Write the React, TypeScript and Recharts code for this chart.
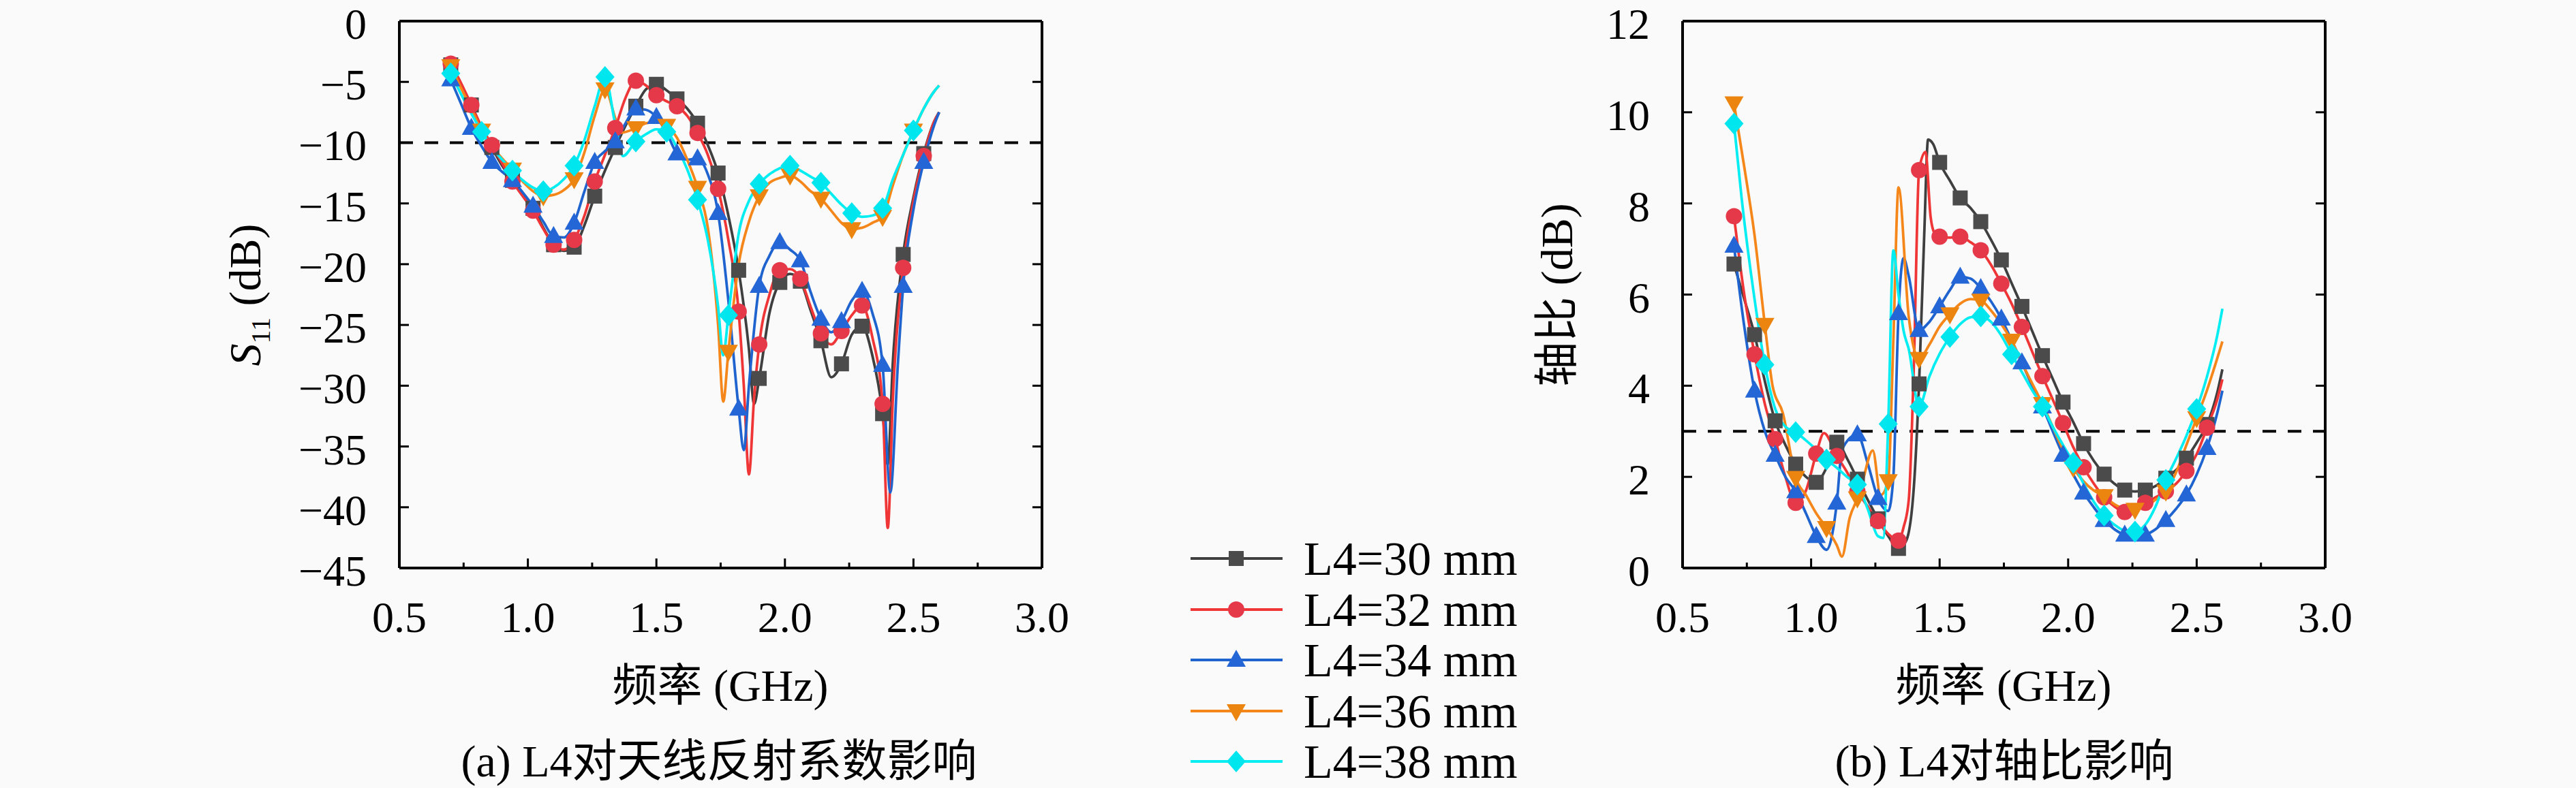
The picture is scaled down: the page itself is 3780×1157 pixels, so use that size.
import React from "react";
import { LineChart, Line, XAxis, YAxis, ReferenceLine } from "recharts";

// ---- (a) S11 data, frequency in GHz, value in dB ----
const s11Freq30 = [0.70, 0.74, 0.78, 0.82, 0.86, 0.90, 0.94, 0.98, 1.02, 1.06, 1.10, 1.14, 1.18, 1.22, 1.26, 1.30, 1.34, 1.38, 1.42, 1.46, 1.50, 1.54, 1.58, 1.62, 1.66, 1.70, 1.74, 1.78, 1.82, 1.86, 1.88, 1.90, 1.94, 1.98, 2.02, 2.06, 2.10, 2.14, 2.18, 2.22, 2.26, 2.30, 2.34, 2.38, 2.40, 2.42, 2.46, 2.50, 2.54, 2.58, 2.60];
const s11Val30 = [-3.6, -5.2, -6.9, -8.8, -10.4, -11.9, -13.1, -14.3, -15.4, -17.0, -18.4, -18.9, -18.6, -16.8, -14.4, -12.3, -10.4, -8.6, -7.0, -5.6, -5.2, -5.7, -6.4, -7.2, -8.4, -10.2, -12.5, -16.0, -20.5, -27.0, -31.5, -29.4, -24.0, -21.5, -20.8, -21.4, -23.8, -26.3, -29.3, -28.2, -25.8, -25.1, -27.5, -32.3, -36.5, -28.0, -19.2, -14.5, -10.9, -8.3, -7.5];

const s11Freq32 = [0.70, 0.74, 0.78, 0.82, 0.86, 0.90, 0.94, 0.98, 1.02, 1.06, 1.10, 1.14, 1.18, 1.22, 1.26, 1.30, 1.34, 1.38, 1.42, 1.46, 1.50, 1.54, 1.58, 1.62, 1.66, 1.70, 1.74, 1.78, 1.82, 1.84, 1.86, 1.88, 1.90, 1.94, 1.98, 2.02, 2.06, 2.10, 2.14, 2.18, 2.22, 2.26, 2.30, 2.34, 2.38, 2.40, 2.42, 2.46, 2.50, 2.54, 2.58, 2.60];
const s11Val32 = [-3.5, -5.1, -6.9, -8.7, -10.2, -11.7, -13.2, -14.4, -15.6, -17.1, -18.4, -18.8, -18.0, -16.0, -13.2, -11.0, -8.8, -6.3, -4.9, -5.3, -6.1, -6.6, -7.0, -7.8, -9.2, -11.0, -13.8, -18.0, -23.9, -30.0, -37.3, -31.0, -26.6, -22.5, -20.5, -20.4, -21.2, -23.5, -25.7, -26.6, -25.5, -24.2, -23.4, -26.0, -31.5, -41.7, -31.0, -20.3, -14.8, -11.1, -8.3, -7.5];

const s11Freq34 = [0.70, 0.74, 0.78, 0.82, 0.86, 0.90, 0.94, 0.98, 1.02, 1.06, 1.10, 1.14, 1.18, 1.22, 1.26, 1.30, 1.34, 1.38, 1.42, 1.46, 1.50, 1.54, 1.58, 1.62, 1.66, 1.70, 1.74, 1.78, 1.82, 1.84, 1.86, 1.90, 1.94, 1.98, 2.02, 2.06, 2.10, 2.14, 2.18, 2.22, 2.26, 2.30, 2.34, 2.38, 2.41, 2.44, 2.46, 2.50, 2.54, 2.58, 2.60];
const s11Val34 = [-4.8, -6.8, -8.8, -10.3, -11.6, -12.4, -13.1, -14.1, -15.2, -16.5, -17.7, -17.8, -16.6, -14.0, -11.6, -10.7, -9.9, -8.4, -7.2, -7.3, -7.9, -9.2, -10.9, -11.4, -11.3, -12.6, -15.8, -23.0, -31.9, -35.3, -30.0, -21.8, -19.3, -18.2, -18.8, -19.7, -22.3, -24.5, -25.6, -24.7, -23.0, -22.2, -24.0, -28.3, -38.8, -28.0, -21.8, -15.5, -11.6, -8.6, -7.5];

const s11Freq36 = [0.70, 0.74, 0.78, 0.82, 0.86, 0.90, 0.94, 0.98, 1.02, 1.06, 1.10, 1.14, 1.18, 1.22, 1.26, 1.30, 1.34, 1.36, 1.42, 1.46, 1.50, 1.54, 1.58, 1.62, 1.66, 1.70, 1.74, 1.76, 1.78, 1.82, 1.86, 1.90, 1.94, 1.98, 2.02, 2.06, 2.10, 2.14, 2.18, 2.22, 2.26, 2.30, 2.34, 2.38, 2.42, 2.46, 2.50, 2.54, 2.58, 2.60];
const s11Val36 = [-3.7, -5.5, -7.2, -9.0, -10.3, -11.3, -12.2, -13.2, -14.0, -14.4, -14.3, -13.9, -13.0, -10.8, -7.8, -5.6, -8.0, -9.2, -8.8, -8.4, -8.3, -8.6, -9.6, -11.4, -13.7, -17.0, -25.0, -31.3, -27.2, -20.0, -16.5, -14.4, -13.3, -12.9, -12.7, -13.2, -14.0, -14.6, -15.6, -16.6, -17.1, -17.0, -16.6, -16.1, -13.5, -11.0, -9.0, -7.2, -5.8, -5.3];

const s11Freq38 = [0.70, 0.74, 0.78, 0.82, 0.86, 0.90, 0.94, 0.98, 1.02, 1.06, 1.10, 1.14, 1.18, 1.22, 1.26, 1.30, 1.34, 1.37, 1.42, 1.46, 1.50, 1.54, 1.58, 1.62, 1.66, 1.70, 1.74, 1.76, 1.78, 1.82, 1.86, 1.90, 1.94, 1.98, 2.02, 2.06, 2.10, 2.14, 2.18, 2.22, 2.26, 2.30, 2.34, 2.38, 2.42, 2.46, 2.50, 2.54, 2.58, 2.60];
const s11Val38 = [-4.3, -6.0, -7.6, -9.1, -10.4, -11.4, -12.3, -13.1, -13.7, -14.0, -13.7, -13.0, -11.9, -9.8, -7.0, -4.6, -8.5, -11.1, -9.9, -9.3, -8.9, -9.1, -10.4, -12.2, -14.7, -18.0, -23.5, -27.5, -24.2, -17.5, -14.8, -13.4, -12.6, -12.1, -11.9, -12.3, -12.8, -13.3, -14.2, -15.1, -15.8, -16.1, -16.0, -15.4, -13.0, -11.0, -9.0, -7.2, -5.8, -5.3];

// ---- (b) axial ratio data, dB ----
const arFreq30 = [0.70, 0.74, 0.78, 0.82, 0.86, 0.90, 0.94, 0.98, 1.02, 1.06, 1.10, 1.14, 1.18, 1.22, 1.26, 1.30, 1.34, 1.37, 1.40, 1.42, 1.44, 1.455, 1.475, 1.50, 1.54, 1.58, 1.62, 1.66, 1.70, 1.74, 1.78, 1.82, 1.86, 1.90, 1.94, 1.98, 2.02, 2.06, 2.10, 2.14, 2.18, 2.22, 2.26, 2.30, 2.34, 2.38, 2.42, 2.46, 2.50, 2.54, 2.58, 2.60];
const arVal30 = [6.67, 5.9, 5.12, 4.1, 3.23, 2.7, 2.28, 2.0, 1.88, 2.2, 2.76, 2.4, 1.95, 1.5, 1.08, 0.7, 0.43, 0.6, 1.8, 4.04, 7.3, 9.4, 9.3, 8.9, 8.5, 8.12, 7.9, 7.6, 7.2, 6.76, 6.25, 5.74, 5.2, 4.66, 4.15, 3.64, 3.2, 2.73, 2.35, 2.06, 1.85, 1.71, 1.68, 1.71, 1.8, 1.97, 2.15, 2.41, 2.75, 3.15, 3.85, 4.36];

const arFreq32 = [0.70, 0.74, 0.78, 0.82, 0.86, 0.90, 0.94, 0.98, 1.02, 1.05, 1.10, 1.14, 1.18, 1.22, 1.26, 1.30, 1.34, 1.36, 1.38, 1.40, 1.42, 1.445, 1.465, 1.48, 1.50, 1.54, 1.58, 1.62, 1.66, 1.70, 1.74, 1.78, 1.82, 1.86, 1.90, 1.94, 1.98, 2.02, 2.06, 2.10, 2.14, 2.18, 2.22, 2.26, 2.30, 2.34, 2.38, 2.42, 2.46, 2.50, 2.54, 2.58, 2.60];
const arVal32 = [7.72, 6.0, 4.69, 3.6, 2.83, 2.0, 1.43, 1.7, 2.51, 2.96, 2.46, 2.1, 1.68, 1.35, 1.03, 0.75, 0.6, 0.9, 1.5, 4.5, 8.73, 9.13, 7.7, 7.35, 7.27, 7.25, 7.27, 7.15, 6.97, 6.65, 6.24, 5.8, 5.29, 4.75, 4.21, 3.7, 3.18, 2.65, 2.21, 1.85, 1.55, 1.35, 1.23, 1.28, 1.43, 1.55, 1.68, 1.85, 2.13, 2.5, 3.08, 3.7, 4.14];

const arFreq34 = [0.70, 0.74, 0.78, 0.82, 0.86, 0.90, 0.94, 0.98, 1.02, 1.06, 1.10, 1.12, 1.18, 1.22, 1.26, 1.30, 1.32, 1.34, 1.36, 1.38, 1.42, 1.46, 1.50, 1.54, 1.58, 1.62, 1.66, 1.70, 1.74, 1.78, 1.82, 1.86, 1.90, 1.94, 1.98, 2.02, 2.06, 2.10, 2.14, 2.18, 2.22, 2.26, 2.30, 2.34, 2.38, 2.42, 2.46, 2.50, 2.54, 2.58, 2.60];
const arVal34 = [7.07, 5.3, 3.89, 3.0, 2.48, 2.0, 1.68, 1.2, 0.7, 0.4, 1.43, 2.6, 2.93, 2.3, 1.53, 1.25, 2.0, 5.59, 6.8, 6.4, 5.22, 5.4, 5.74, 6.1, 6.39, 6.35, 6.14, 5.85, 5.47, 5.0, 4.51, 4.0, 3.54, 3.0, 2.48, 2.05, 1.65, 1.33, 1.05, 0.85, 0.73, 0.7, 0.73, 0.85, 1.05, 1.3, 1.61, 2.05, 2.63, 3.4, 3.89];

const arFreq36 = [0.70, 0.74, 0.78, 0.82, 0.85, 0.89, 0.94, 0.98, 1.02, 1.06, 1.10, 1.12, 1.15, 1.18, 1.20, 1.24, 1.27, 1.30, 1.32, 1.34, 1.38, 1.42, 1.46, 1.50, 1.54, 1.58, 1.62, 1.66, 1.70, 1.74, 1.78, 1.82, 1.86, 1.90, 1.94, 1.98, 2.02, 2.06, 2.10, 2.14, 2.18, 2.22, 2.26, 2.30, 2.34, 2.38, 2.42, 2.46, 2.50, 2.54, 2.58, 2.60];
const arVal36 = [10.2, 8.8, 7.3, 5.34, 4.0, 3.4, 1.98, 1.6, 1.2, 0.88, 0.5, 0.25, 1.1, 1.53, 1.9, 2.58, 1.6, 1.91, 5.0, 8.35, 5.5, 4.59, 4.9, 5.3, 5.57, 5.8, 5.9, 5.87, 5.65, 5.35, 4.99, 4.5, 4.05, 3.6, 3.1, 2.6, 2.2, 1.9, 1.7, 1.58, 1.4, 1.3, 1.28, 1.35, 1.5, 1.68, 2.1, 2.7, 3.29, 3.9, 4.6, 4.97];

const arFreq38 = [0.70, 0.73, 0.78, 0.82, 0.86, 0.90, 0.94, 0.98, 1.02, 1.06, 1.10, 1.14, 1.18, 1.22, 1.26, 1.28, 1.30, 1.32, 1.34, 1.36, 1.38, 1.42, 1.46, 1.50, 1.54, 1.58, 1.62, 1.66, 1.70, 1.74, 1.78, 1.82, 1.86, 1.90, 1.94, 1.98, 2.02, 2.06, 2.10, 2.14, 2.18, 2.22, 2.26, 2.30, 2.34, 2.38, 2.42, 2.46, 2.50, 2.54, 2.58, 2.60];
const arVal38 = [9.75, 8.1, 5.9, 4.46, 3.5, 3.1, 2.98, 2.8, 2.6, 2.38, 2.2, 2.0, 1.83, 1.3, 0.7, 0.66, 3.16, 6.97, 6.0, 5.2, 4.8, 3.54, 4.2, 4.7, 5.07, 5.35, 5.5, 5.52, 5.4, 5.1, 4.69, 4.3, 3.9, 3.54, 3.1, 2.7, 2.31, 1.85, 1.45, 1.15, 0.95, 0.82, 0.8, 0.95, 1.35, 1.93, 2.4, 2.9, 3.49, 4.2, 5.1, 5.69];

const seriesNames = ["L4=30 mm", "L4=32 mm", "L4=34 mm", "L4=36 mm", "L4=38 mm"];
const freqTicks = [0.5, 0.75, 1.0, 1.25, 1.5, 1.75, 2.0, 2.25, 2.5, 2.75, 3.0];
const s11Ticks = [-45, -40, -35, -30, -25, -20, -15, -10, -5, 0];
const arTicks = [0, 2, 4, 6, 8, 10, 12];

const FONT = "'Liberation Serif', 'Noto Sans CJK SC', serif";

type Shape = "square" | "circle" | "up" | "down" | "diamond";
const STYLES: { line: string; fill: string; shape: Shape; step: number }[] = [
  { line: "#3f3f3f", fill: "#4b4b4b", shape: "square", step: 0.08 },
  { line: "#ef3535", fill: "#e5394a", shape: "circle", step: 0.08 },
  { line: "#1f63cf", fill: "#2566d6", shape: "up", step: 0.08 },
  { line: "#f5861a", fill: "#ec8410", shape: "down", step: 0.12 },
  { line: "#00eef2", fill: "#00e6ef", shape: "diamond", step: 0.12 },
];

const toPoints = (fs: number[], vs: number[]) => fs.map((f, i) => ({ f, v: vs[i] }));

const s11Data = [
  toPoints(s11Freq30, s11Val30),
  toPoints(s11Freq32, s11Val32),
  toPoints(s11Freq34, s11Val34),
  toPoints(s11Freq36, s11Val36),
  toPoints(s11Freq38, s11Val38),
];
const arData = [
  toPoints(arFreq30, arVal30),
  toPoints(arFreq32, arVal32),
  toPoints(arFreq34, arVal34),
  toPoints(arFreq36, arVal36),
  toPoints(arFreq38, arVal38),
];

function Marker({ shape, cx, cy, fill }: { shape: Shape; cx: number; cy: number; fill: string }) {
  switch (shape) {
    case "square":
      return <rect x={cx - 11} y={cy - 11} width={22} height={22} fill={fill} />;
    case "circle":
      return <circle cx={cx} cy={cy} r={12} fill={fill} />;
    case "up":
      return <polygon points={`${cx},${cy - 15} ${cx - 14},${cy + 10} ${cx + 14},${cy + 10}`} fill={fill} />;
    case "down":
      return <polygon points={`${cx - 14},${cy - 10} ${cx + 14},${cy - 10} ${cx},${cy + 15}`} fill={fill} />;
    default:
      return <polygon points={`${cx},${cy - 16} ${cx + 14},${cy} ${cx},${cy + 16} ${cx - 14},${cy}`} fill={fill} />;
  }
}

const renderDot = (p: any, si: number) => {
  const st = STYLES[si];
  const k = (p.payload.f - 0.7) / st.step;
  if (Math.abs(k - Math.round(k)) > 1e-6 || p.cx == null) return <g key={`d${si}-${p.index}`} />;
  return (
    <g key={`d${si}-${p.index}`}>
      <Marker shape={st.shape} cx={p.cx} cy={p.cy} fill={st.fill} />
    </g>
  );
};

const bottomTick = (p: any) => {
  const major = p.index % 2 === 0;
  return (
    <g key={`bt${p.index}`}>
      <line x1={p.x} x2={p.x} y1={p.y} y2={p.y - (major ? 14 : 8)} stroke="#000" strokeWidth={3} />
      {major && (
        <text x={p.x} y={p.y + 94} textAnchor="middle" fontSize={64} fontFamily={FONT} fill="#000">
          {Number(p.payload.value).toFixed(1)}
        </text>
      )}
    </g>
  );
};

const topTick = (p: any) => {
  const major = p.index % 2 === 0;
  return (
    <line key={`tt${p.index}`} x1={p.x} x2={p.x} y1={p.y} y2={p.y + (major ? 14 : 8)} stroke="#000" strokeWidth={3} />
  );
};

const leftTick = (fmt: (v: number) => string) => (p: any) => (
  <g key={`lt${p.index}`}>
    <line x1={p.x} x2={p.x + 14} y1={p.y} y2={p.y} stroke="#000" strokeWidth={3} />
    <text x={p.x - 48} y={p.y + 26} textAnchor="end" fontSize={64} fontFamily={FONT} fill="#000">
      {fmt(Number(p.payload.value))}
    </text>
  </g>
);

const rightTick = (p: any) => (
  <line key={`rt${p.index}`} x1={p.x} x2={p.x - 14} y1={p.y} y2={p.y} stroke="#000" strokeWidth={3} />
);

const s11Fmt = (v: number) => (v === 0 ? "0" : `\u2212${Math.abs(v)}`);
const arFmt = (v: number) => `${v}`;

const PLOT_TOP = 31;
const PLOT_BOTTOM = 834;
const CHART_H = 1000;
const Y_AXIS_W = 300;
const X_AXIS_H = 100;

function Panel({
  plotLeft,
  plotRight,
  data,
  yDomain,
  yTicks,
  yFmt,
  refY,
}: {
  plotLeft: number;
  plotRight: number;
  data: { f: number; v: number }[][];
  yDomain: [number, number];
  yTicks: number[];
  yFmt: (v: number) => string;
  refY: number;
}) {
  const boxLeft = plotLeft - 400;
  const width = plotRight + 200 - boxLeft;
  const axisLine = { stroke: "#000", strokeWidth: 4 };
  return (
    <div style={{ position: "absolute", left: boxLeft, top: 0 }}>
      <LineChart
        width={width}
        height={CHART_H}
        margin={{ top: PLOT_TOP - 1, right: 180, left: 400 - Y_AXIS_W, bottom: CHART_H - PLOT_BOTTOM - X_AXIS_H }}
      >
        <XAxis
          dataKey="f"
          type="number"
          domain={[0.5, 3.0]}
          ticks={freqTicks}
          allowDataOverflow
          height={X_AXIS_H}
          tickSize={0}
          tickMargin={0}
          tickLine={false}
          axisLine={axisLine}
          tick={bottomTick}
          interval={0}
        />
        <XAxis
          xAxisId="top"
          orientation="top"
          type="number"
          domain={[0.5, 3.0]}
          ticks={freqTicks}
          allowDataOverflow
          height={1}
          tickSize={0}
          tickMargin={0}
          tickLine={false}
          axisLine={axisLine}
          tick={topTick}
          interval={0}
        />
        <YAxis
          type="number"
          domain={yDomain}
          ticks={yTicks}
          allowDataOverflow
          width={Y_AXIS_W}
          tickSize={0}
          tickMargin={0}
          tickLine={false}
          axisLine={axisLine}
          tick={leftTick(yFmt)}
          interval={0}
        />
        <YAxis
          yAxisId="right"
          orientation="right"
          type="number"
          domain={yDomain}
          ticks={yTicks}
          allowDataOverflow
          width={20}
          tickSize={0}
          tickMargin={0}
          tickLine={false}
          axisLine={axisLine}
          tick={rightTick}
          interval={0}
        />
        <ReferenceLine y={refY} stroke="#000" strokeWidth={4} strokeDasharray="20 17" />
        {data.map((pts, si) => (
          <Line
            key={seriesNames[si]}
            data={pts}
            dataKey="v"
            name={seriesNames[si]}
            type="monotone"
            stroke={STYLES[si].line}
            strokeWidth={3.8}
            dot={(p: any) => renderDot(p, si)}
            activeDot={false}
            isAnimationActive={false}
          />
        ))}
      </LineChart>
    </div>
  );
}

function Legend() {
  const rows = [820, 895, 969, 1044, 1118];
  const ox = 1700;
  const oy = 770;
  return (
    <svg style={{ position: "absolute", left: ox, top: oy }} width={660} height={387}>
      {seriesNames.map((name, i) => {
        const y = rows[i] - oy;
        return (
          <g key={name}>
            <line x1={1747 - ox} x2={1882 - ox} y1={y} y2={y} stroke={STYLES[i].line} strokeWidth={3.8} />
            <Marker shape={STYLES[i].shape} cx={1814 - ox} cy={y} fill={STYLES[i].fill} />
            <text x={1913 - ox} y={y + 24} fontSize={70} fontFamily={FONT} fill="#000">
              {name}
            </text>
          </g>
        );
      })}
    </svg>
  );
}

const labelStyle: React.CSSProperties = {
  position: "absolute",
  fontFamily: FONT,
  fontSize: 66,
  color: "#000",
  whiteSpace: "nowrap",
  lineHeight: 1,
};

export default function App() {
  return (
    <div style={{ position: "absolute", left: 0, top: 0, width: 3780, height: 1157, background: "#fafafa", overflow: "hidden" }}>
      <Panel plotLeft={586} plotRight={1529} data={s11Data} yDomain={[-45, 0]} yTicks={s11Ticks} yFmt={s11Fmt} refY={-10} />
      <Panel plotLeft={2469} plotRight={3412} data={arData} yDomain={[0, 12]} yTicks={arTicks} yFmt={arFmt} refY={3} />
      <Legend />
      <div style={{ ...labelStyle, left: 365, top: 433, transform: "translate(-50%, -50%) rotate(-90deg)" }}>
        <i>S</i>
        <sub style={{ fontSize: 40 }}>11</sub> (dB)
      </div>
      <div style={{ ...labelStyle, left: 2285, top: 433, transform: "translate(-50%, -50%) rotate(-90deg)" }}>
        轴比 (dB)
      </div>
      <div style={{ ...labelStyle, left: 1057, top: 1007, transform: "translate(-50%, -50%)" }}>频率 (GHz)</div>
      <div style={{ ...labelStyle, left: 2940, top: 1007, transform: "translate(-50%, -50%)" }}>频率 (GHz)</div>
      <div style={{ ...labelStyle, left: 1055, top: 1118, transform: "translate(-50%, -50%)" }}>
        (a) L4对天线反射系数影响
      </div>
      <div style={{ ...labelStyle, left: 2941, top: 1118, transform: "translate(-50%, -50%)" }}>
        (b) L4对轴比影响
      </div>
    </div>
  );
}
